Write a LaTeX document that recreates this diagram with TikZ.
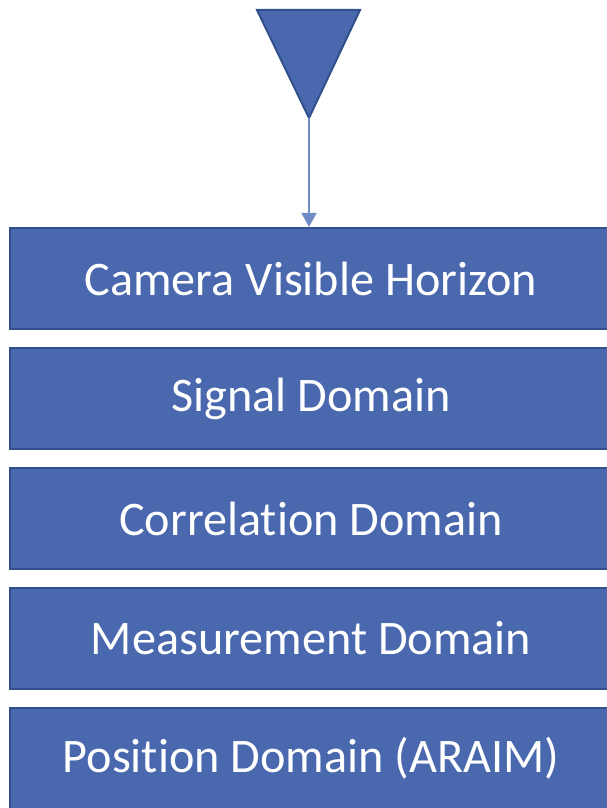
\documentclass[tikz,border=0pt]{standalone}
\usepackage{fontspec}
\setmainfont[RawFeature=-liga]{Carlito}
\usetikzlibrary{arrows.meta}
\definecolor{boxfill}{HTML}{4A68AE}
\definecolor{boxline}{HTML}{32508C}
\definecolor{arrowcol}{HTML}{6F8BC6}
\tikzset{
  layer/.style={rectangle, draw=boxline, line width=2pt, fill=boxfill,
    minimum width=603pt, minimum height=101pt, inner sep=0pt,
    text=white, font=\fontsize{48.2}{50}\selectfont, anchor=north west},
  funnel/.style={draw=boxline, line width=2pt, fill=boxfill, line join=miter},
  flow/.style={draw=arrowcol, line width=1.5pt, -{Triangle[width=15pt,length=14pt]}}
}
\begin{document}
\begin{tikzpicture}[x=1pt,y=1pt]
\useasboundingbox (0,0) rectangle (607,808);
\clip (0,0) rectangle (607,808);
% input funnel
\draw[funnel] (257,798) -- (360,798) -- (309,690) -- cycle;
\coordinate (apex) at (309,690);
% stacked processing layers
\node[layer] (cam)  at (8.5,581) {Camera Visible Horizon};
\node[layer] (sig)  at (8.5,461) {Signal Domain};
\node[layer] (corr) at (8.5,341) {Correlation Domain};
\node[layer] (meas) at (8.5,221) {Measurement Domain};
\node[layer] (pos)  at (8.5,101) {Position Domain (ARAIM)};
% feed into the top layer
\draw[flow] (apex) -- (cam.north -| apex);
\end{tikzpicture}
\end{document}
